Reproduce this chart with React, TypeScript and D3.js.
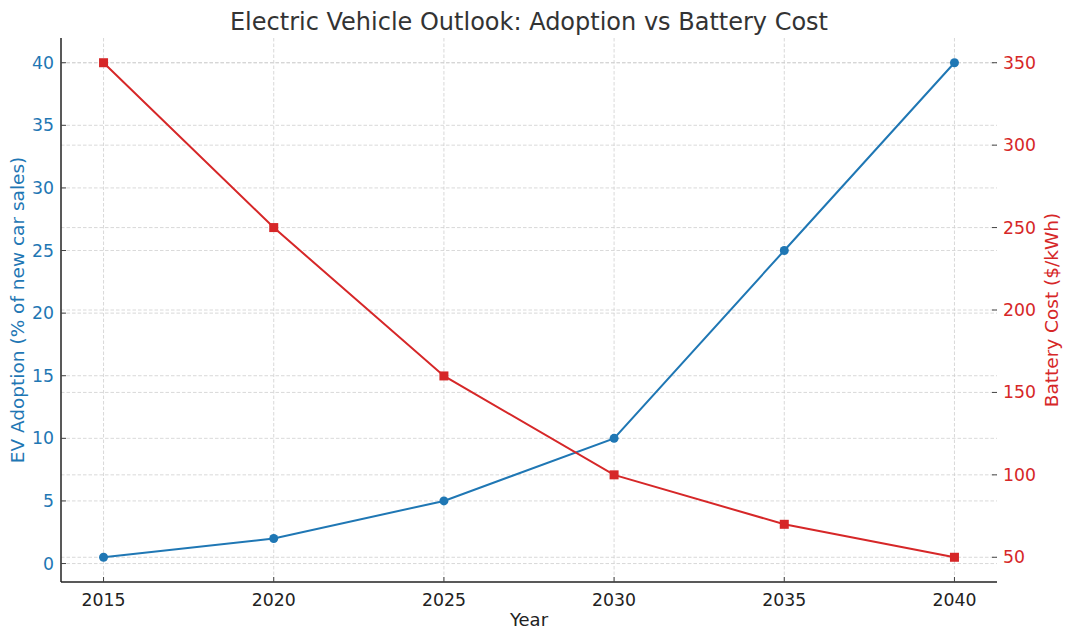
import React from 'react';
import * as d3 from 'd3';

const years = [2015, 2020, 2025, 2030, 2035, 2040];
const adoption = [0.5, 2, 5, 10, 25, 40];
const batteryCost = [350, 250, 160, 100, 70, 50];
const adoptionTicks = [0, 5, 10, 15, 20, 25, 30, 35, 40];
const costTicks = [50, 100, 150, 200, 250, 300, 350];

const W = 1069;
const H = 640;
const margin = { top: 38, right: 72, bottom: 58, left: 61 };
const BLUE = '#1f77b4';
const RED = '#d62728';
const FONT = 'DejaVu Sans, sans-serif';

export default function App() {
    const innerW = W - margin.left - margin.right;
    const innerH = H - margin.top - margin.bottom;

    // matplotlib style 5% padding around the data
    const pad = (lo: number, hi: number) => [lo - (hi - lo) * 0.05, hi + (hi - lo) * 0.05];

    const xScale = d3.scaleLinear()
        .domain(pad(d3.min(years)!, d3.max(years)!))
        .range([0, innerW]);
    const yLeft = d3.scaleLinear()
        .domain(pad(d3.min(adoption)!, d3.max(adoption)!))
        .range([innerH, 0]);
    const yRight = d3.scaleLinear()
        .domain(pad(d3.min(batteryCost)!, d3.max(batteryCost)!))
        .range([innerH, 0]);

    const adoptionLine = d3.line<number>()
        .x((_, i) => xScale(years[i]))
        .y(d => yLeft(d));
    const costLine = d3.line<number>()
        .x((_, i) => xScale(years[i]))
        .y(d => yRight(d));

    const grid = { stroke: '#cfcfcf', strokeWidth: 0.8, strokeDasharray: '3.5,2' };

    return (
        <svg width={W} height={H} style={{ position: 'absolute', left: 0, top: 0, background: '#fff' }}
            fontFamily={FONT}>
            <text x={margin.left + innerW / 2} y={30} textAnchor="middle" fontSize={24} fill="#333">
                Electric Vehicle Outlook: Adoption vs Battery Cost
            </text>
            <g transform={`translate(${margin.left},${margin.top})`}>
                {/* grid */}
                {years.map(y => (
                    <line key={'gx' + y} x1={xScale(y)} x2={xScale(y)} y1={0} y2={innerH} {...grid} />
                ))}
                {adoptionTicks.map(t => (
                    <line key={'gl' + t} x1={0} x2={innerW} y1={yLeft(t)} y2={yLeft(t)} {...grid} />
                ))}
                {costTicks.map(t => (
                    <line key={'gr' + t} x1={0} x2={innerW} y1={yRight(t)} y2={yRight(t)} {...grid} />
                ))}

                {/* series */}
                <path d={adoptionLine(adoption)!} fill="none" stroke={BLUE} strokeWidth={2} />
                {adoption.map((v, i) => (
                    <circle key={'c' + i} cx={xScale(years[i])} cy={yLeft(v)} r={4.5} fill={BLUE} />
                ))}
                <path d={costLine(batteryCost)!} fill="none" stroke={RED} strokeWidth={2} />
                {batteryCost.map((v, i) => (
                    <rect key={'s' + i} x={xScale(years[i]) - 4.5} y={yRight(v) - 4.5} width={9} height={9} fill={RED} />
                ))}

                {/* spines */}
                <line x1={0} x2={0} y1={0} y2={innerH} stroke="#222" strokeWidth={1.5} />
                <line x1={0} x2={innerW} y1={innerH} y2={innerH} stroke="#222" strokeWidth={1.5} />

                {/* x ticks */}
                {years.map(y => (
                    <g key={'xt' + y} transform={`translate(${xScale(y)},${innerH})`}>
                        <line y1={0} y2={-5} stroke="#444" strokeWidth={1} />
                        <text y={24} textAnchor="middle" fontSize={17.3} fill="#222">{y}</text>
                    </g>
                ))}
                <text x={innerW / 2} y={innerH + 44} textAnchor="middle" fontSize={18} fill="#222">Year</text>

                {/* left ticks */}
                {adoptionTicks.map(t => (
                    <g key={'lt' + t} transform={`translate(0,${yLeft(t)})`}>
                        <line x1={0} x2={5} stroke="#444" strokeWidth={1} />
                        <text x={-7} dy="0.35em" textAnchor="end" fontSize={17.3} fill={BLUE}>{t}</text>
                    </g>
                ))}
                <text transform={`translate(${-61 + 24},${innerH / 2}) rotate(-90)`} textAnchor="middle"
                    fontSize={18.5} fill={BLUE}>EV Adoption (% of new car sales)</text>

                {/* right ticks */}
                {costTicks.map(t => (
                    <g key={'rt' + t} transform={`translate(${innerW},${yRight(t)})`}>
                        <line x1={0} x2={-5} stroke="#444" strokeWidth={1} />
                        <text x={6} dy="0.35em" textAnchor="start" fontSize={17.3} fill={RED}>{t}</text>
                    </g>
                ))}
                <text transform={`translate(${innerW + 61},${innerH / 2}) rotate(-90)`} textAnchor="middle"
                    fontSize={18.5} fill={RED}>Battery Cost ($/kWh)</text>
            </g>
        </svg>
    );
}
